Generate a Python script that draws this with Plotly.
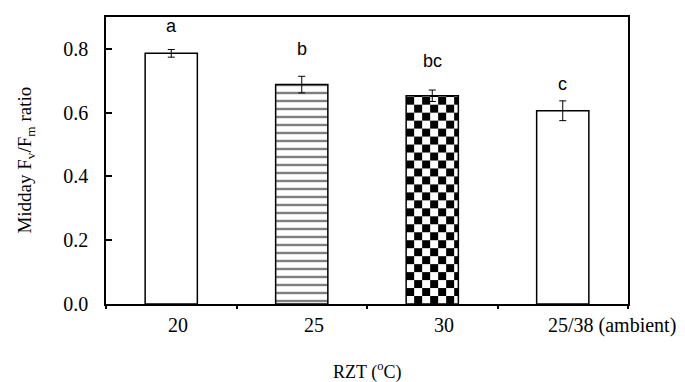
import numpy as np
import plotly.graph_objects as go

categories = ["20", "25", "30", "25/38 (ambient)"]
values = [0.786, 0.688, 0.653, 0.606]
errors = [0.012, 0.026, 0.018, 0.031]
letters = ["a", "b", "bc", "c"]
letter_y = [0.833, 0.7625, 0.725, 0.653]
label_shift = [7, 12, 12, 49]
y_ticks = [0.0, 0.2, 0.4, 0.6, 0.8]

SERIF = "Liberation Serif, Times New Roman, serif"
SANS = "Liberation Sans, Arial, sans-serif"
BAR_W = 0.4
x_idx = list(range(len(categories)))

fig = go.Figure()

# white fills (horizontal stripes for the 25 °C bar)
fig.add_trace(go.Bar(
    x=x_idx, y=values, width=BAR_W,
    marker=dict(color="white", line=dict(width=0),
                pattern=dict(shape=["", "-", "", ""], fgcolor="black", bgcolor="white",
                             size=8, solidity=0.3)),
    showlegend=False, hoverinfo="skip"))

# checkerboard texture for the 30 °C bar
checker_i = 2
cell_h = 0.025
cell_w = 0.0613
v = values[checker_i]
left0 = x_idx[checker_i] - BAR_W / 2
n_rows = int(np.ceil(v / cell_h))
n_cols = int(np.ceil(BAR_W / cell_w - 1e-9))
cx, cw, cb, ch = [], [], [], []
for r in range(n_rows):
    b0 = r * cell_h
    b1 = min(b0 + cell_h, v)
    for c in range(n_cols):
        if (r + c) % 2 == 1:
            l = left0 + c * cell_w
            rr = min(l + cell_w, left0 + BAR_W)
            cx.append((l + rr) / 2)
            cw.append(rr - l)
            cb.append(b0)
            ch.append(b1 - b0)
fig.add_trace(go.Bar(
    x=cx, y=ch, base=cb, width=cw,
    marker=dict(color="black", line=dict(width=0)),
    showlegend=False, hoverinfo="skip"))

# outlines and error bars
fig.add_trace(go.Bar(
    x=x_idx, y=values, width=BAR_W,
    marker=dict(color="rgba(0,0,0,0)", line=dict(color="black", width=1.5)),
    error_y=dict(type="data", array=errors, visible=True, color="black",
                 thickness=1, width=3.5),
    showlegend=False))

annotations = []
for i, (t, yy) in enumerate(zip(letters, letter_y)):
    annotations.append(dict(x=x_idx[i], y=yy, xref="x", yref="y", text=t, showarrow=False,
                            yanchor="bottom", font=dict(family=SANS, size=18, color="black")))
for i, lab in enumerate(categories):
    annotations.append(dict(x=x_idx[i], y=0, xref="x", yref="y", text=lab, showarrow=False,
                            yanchor="middle", yshift=-21, xshift=label_shift[i],
                            font=dict(family=SERIF, size=20, color="black")))
annotations.append(dict(x=0.5, y=-0.232, xref="paper", yref="paper",
                        text="RZT (<sup>o</sup>C)", showarrow=False, yanchor="middle",
                        font=dict(family=SERIF, size=18, color="black")))
annotations.append(dict(x=-0.155, y=0.5, xref="paper", yref="paper",
                        text="Midday F<sub>v</sub>/F<sub>m</sub> ratio", showarrow=False,
                        textangle=-90, xanchor="center", yanchor="middle",
                        font=dict(family=SERIF, size=19, color="black")))

fig.update_layout(
    width=677, height=374,
    margin=dict(l=98, r=57, t=7, b=78),
    paper_bgcolor="white", plot_bgcolor="white",
    font=dict(family=SERIF, color="black"),
    barmode="overlay",
    annotations=annotations,
    xaxis=dict(range=[-0.5, 3.5], tickmode="array", tickvals=[-0.5, 0.5, 1.5, 2.5, 3.5],
               showticklabels=False, ticks="outside", ticklen=3, tickwidth=1.5, tickcolor="black",
               showline=True, linecolor="black", linewidth=1.5, mirror=True,
               showgrid=False, zeroline=False),
    yaxis=dict(range=[0, 0.9], tickmode="array", tickvals=y_ticks, tickformat=".1f",
               ticks="inside", ticklen=6, tickwidth=1.5, tickcolor="black",
               ticklabelstandoff=12,
               showline=True, linecolor="black", linewidth=1.5, mirror=True,
               showgrid=False, zeroline=False,
               tickfont=dict(family=SERIF, size=20, color="black")),
)

fig.write_html("out.html")
